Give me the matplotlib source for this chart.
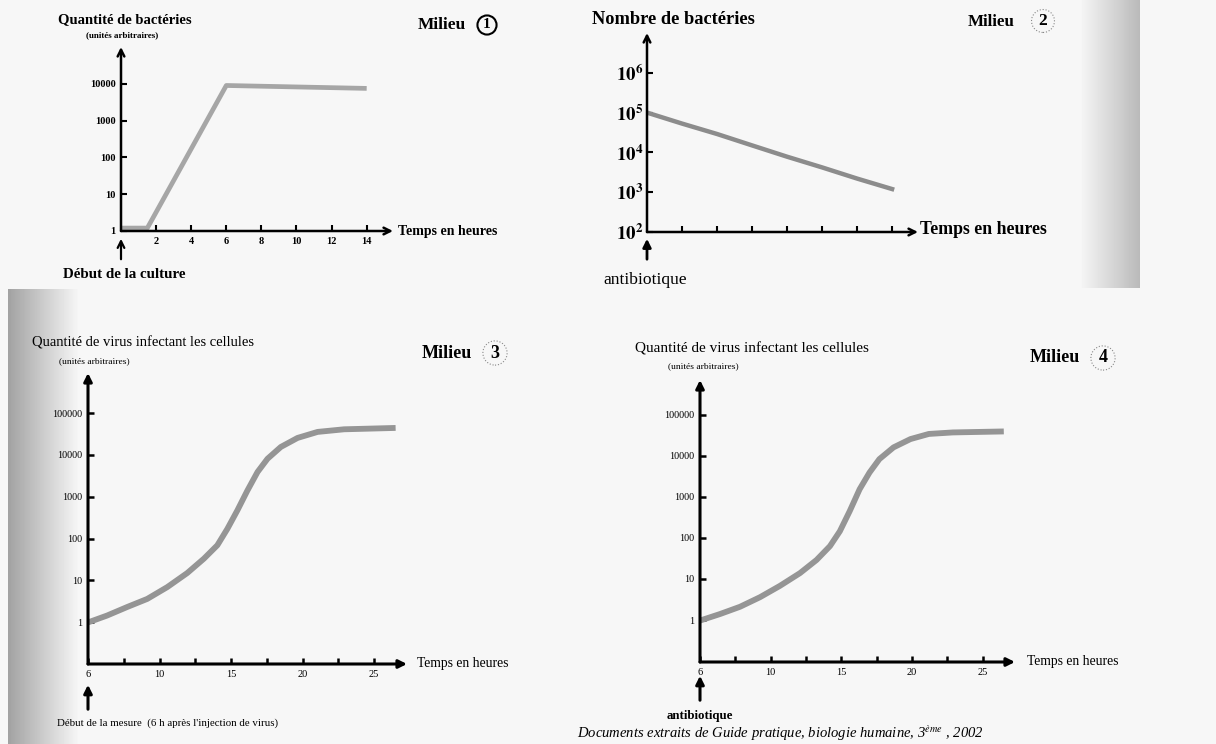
import numpy as np
import matplotlib
matplotlib.use("Agg")
import matplotlib.pyplot as plt
from matplotlib.ticker import NullLocator

plt.rcParams['font.family'] = ['Liberation Serif', 'DejaVu Serif']
plt.rcParams['mathtext.fontset'] = 'stix'

# Milieu 1 : bactéries
m1_heures = [0, 1.5, 6, 14]
m1_quantite = [1.2, 1.2, 9000, 7500]
m1_xticks = [2, 4, 6, 8, 10, 12, 14]
m1_yticks = [1, 10, 100, 1000, 10000]

# Milieu 2 : bactéries + antibiotique
m2_heures = [0, 1, 2, 3, 4, 5, 6, 7]
m2_nombre = [1e5, 5.3e4, 2.9e4, 1.5e4, 7.8e3, 4.2e3, 2.2e3, 1.2e3]
m2_xticks = [1, 2, 3, 4, 5, 6, 7]
m2_yticks = [1e2, 1e3, 1e4, 1e5, 1e6]
m2_ylabels = [r'$\mathbf{10^{2}}$', r'$\mathbf{10^{3}}$', r'$\mathbf{10^{4}}$',
              r'$\mathbf{10^{5}}$', r'$\mathbf{10^{6}}$']

# Milieu 3 : virus
m3_heures = [5.05, 6.33, 7.73, 9.14, 10.54, 11.94, 13.1, 14.04, 14.74, 15.44,
             16.14, 16.85, 17.55, 18.48, 19.65, 21.05, 22.9, 26.3]
m3_virus = [1.0, 1.44, 2.3, 3.6, 6.9, 15, 33, 69, 170, 470,
            1400, 3900, 8100, 15500, 25500, 35500, 41000, 44000]

# Milieu 4 : virus + antibiotique
m4_heures = [5.12, 6.42, 7.83, 9.25, 10.66, 12.08, 13.25, 14.2, 14.9, 15.6,
             16.3, 17.0, 17.7, 18.7, 19.9, 21.2, 22.9, 26.3]
m4_virus = [1.0, 1.4, 2.1, 3.6, 6.8, 13.9, 29, 63, 145, 450,
            1530, 3900, 8300, 16000, 25500, 34000, 37000, 39000]

virus_xticks = [5, 7.5, 10, 12.5, 15, 17.5, 20, 22.5, 25]
virus_xlabels = ['6', '', '10', '', '15', '', '20', '', '25']
virus_yticks = [1, 10, 100, 1000, 10000, 100000]
virus_ylabels = ['1', '10', '100', '1000', '10000', '100000']

W, H = 1216, 744
fig = plt.figure(figsize=(W / 100, H / 100), dpi=100)


def box(l, t, r, b):
    return [l / W, 1 - b / H, (r - l) / W, (b - t) / H]


def txt(x, y, s, **kw):
    kw.setdefault('va', 'center')
    fig.text(x / W, 1 - y / H, s, **kw)


def fleche(x, y0, y1, lw=1.6, style='->'):
    fig.add_artist(matplotlib.patches.FancyArrowPatch(
        (x / W, 1 - y0 / H), (x / W, 1 - y1 / H), transform=fig.transFigure,
        arrowstyle=style, mutation_scale=12, lw=lw, color='black'))


# fond de page scanné
bg = np.full((H, W), 0.965)
xs = np.arange(W)
ombre = np.clip((xs - 1080) / 60, 0, 1)
bg[:288, :1140] -= 0.24 * ombre[:1140]
gauche = np.clip(1 - (xs - 8) / 70, 0, 1)
bg[289:, 8:] -= 0.33 * gauche[8:]
bax = fig.add_axes([0, 0, 1, 1], zorder=-10)
bax.imshow(bg, cmap='gray', vmin=0, vmax=1, aspect='auto')
bax.axis('off')


def axes_fleches(ax, lw, style):
    for s in ax.spines.values():
        s.set_visible(False)
    ax.set_facecolor('none')
    ax.annotate('', xy=(1, 0), xytext=(0, 0), xycoords='axes fraction',
                arrowprops=dict(arrowstyle=style, lw=lw, color='black',
                                shrinkA=0, shrinkB=0, mutation_scale=12))
    ax.annotate('', xy=(0, 1), xytext=(0, 0), xycoords='axes fraction',
                arrowprops=dict(arrowstyle=style, lw=lw, color='black',
                                shrinkA=0, shrinkB=0, mutation_scale=12))
    ax.set_yscale('log')
    ax.yaxis.set_minor_locator(NullLocator())
    ax.xaxis.set_minor_locator(NullLocator())


# ---- Milieu 1
ax1 = fig.add_axes(box(121, 47, 393, 231))
axes_fleches(ax1, 1.8, '->')
ax1.plot(m1_heures, m1_quantite, color='#a6a6a6', lw=3.4, solid_capstyle='butt')
ax1.set_xlim(0, 15.5)
ax1.set_ylim(1, 1e5)
ax1.set_xticks(m1_xticks)
ax1.set_xticklabels([str(v) for v in m1_xticks], fontweight='bold', fontsize=7.5)
ax1.set_yticks(m1_yticks)
ax1.set_yticklabels([str(v) for v in m1_yticks], fontweight='bold', fontsize=7.5)
ax1.tick_params(direction='in', length=4, width=1.5, pad=4)
txt(125, 20, 'Quantité de bactéries', ha='center', fontweight='bold', fontsize=10.5)
txt(122, 35, '(unités arbitraires)', ha='center', fontweight='bold', fontsize=6.5)
txt(418, 25, 'Milieu', ha='left', fontweight='bold', fontsize=12.5)
txt(487, 25, '1', ha='center', fontweight='bold', fontsize=11,
    bbox=dict(boxstyle='circle,pad=0.2', fc='none', ec='black', lw=1.5))
txt(398, 232, 'Temps en heures', ha='left', fontweight='bold', fontsize=10)
txt(124, 274, 'Début de la culture', ha='center', fontweight='bold', fontsize=10.8)
fleche(121, 262, 236)

# ---- Milieu 2
ax2 = fig.add_axes(box(647, 33, 918, 232))
axes_fleches(ax2, 1.8, '->')
ax2.plot(m2_heures, m2_nombre, color='#8c8c8c', lw=3.2)
ax2.set_xlim(0, 7.74)
ax2.set_ylim(1e2, 1e7)
ax2.set_xticks(m2_xticks)
ax2.set_xticklabels([])
ax2.set_yticks(m2_yticks)
ax2.set_yticklabels(m2_ylabels, fontsize=13.5)
ax2.tick_params(direction='in', length=4, width=1.5, pad=3)
txt(592, 20, 'Nombre de bactéries', ha='left', fontweight='bold', fontsize=13.2)
txt(968, 22, 'Milieu', ha='left', fontweight='bold', fontsize=12.2)
txt(1043, 21, '2', ha='center', fontweight='bold', fontsize=12.5,
    bbox=dict(boxstyle='circle,pad=0.2', fc='none', ec='#888888', lw=0.8, ls=':'))
txt(920, 230, 'Temps en heures', ha='left', fontweight='bold', fontsize=12.8)
txt(645, 280, 'antibiotique', ha='center', fontsize=12.6)
fleche(647, 262, 236, lw=2, style='-|>')

# ---- Milieu 3
ax3 = fig.add_axes(box(88, 373, 407, 664))
axes_fleches(ax3, 2.2, '-|>')
ax3.plot(m3_heures, m3_virus, color='#959595', lw=4.2)
ax3.set_xlim(5, 27.3)
ax3.set_ylim(0.1, 9.1e5)
ax3.set_xticks(virus_xticks)
ax3.set_xticklabels(virus_xlabels, fontsize=7.5)
ax3.set_yticks(virus_yticks)
ax3.set_yticklabels(virus_ylabels, fontsize=7.3)
ax3.tick_params(direction='in', length=4, width=1.8, pad=4)
txt(32, 343, 'Quantité de virus infectant les cellules', ha='left', fontsize=10.5)
txt(94, 361, '(unités arbitraires)', ha='center', fontsize=6.8)
txt(422, 353, 'Milieu', ha='left', fontweight='bold', fontsize=13)
txt(495, 353, '3', ha='center', fontweight='bold', fontsize=13,
    bbox=dict(boxstyle='circle,pad=0.2', fc='none', ec='#888888', lw=0.8, ls=':'))
txt(417, 664, 'Temps en heures', ha='left', fontsize=9.8)
txt(57, 723, "Début de la mesure  (6 h après l'injection de virus)", ha='left', fontsize=7.8)
fleche(88, 712, 682, lw=2.2, style='-|>')

# ---- Milieu 4
ax4 = fig.add_axes(box(700, 380, 1015, 662))
axes_fleches(ax4, 2.2, '-|>')
ax4.plot(m4_heures, m4_virus, color='#959595', lw=4.2)
ax4.set_xlim(5, 27.3)
ax4.set_ylim(0.095, 7e5)
ax4.set_xticks(virus_xticks)
ax4.set_xticklabels(virus_xlabels, fontsize=7.5)
ax4.set_yticks(virus_yticks)
ax4.set_yticklabels(virus_ylabels, fontsize=7.3)
ax4.tick_params(direction='in', length=4, width=1.8, pad=4)
txt(635, 349, 'Quantité de virus infectant les cellules', ha='left', fontsize=11)
txt(703, 366, '(unités arbitraires)', ha='center', fontsize=6.8)
txt(1030, 358, 'Milieu', ha='left', fontweight='bold', fontsize=13)
txt(1103, 358, '4', ha='center', fontweight='bold', fontsize=13,
    bbox=dict(boxstyle='circle,pad=0.2', fc='none', ec='#888888', lw=0.8, ls=':'))
txt(1027, 662, 'Temps en heures', ha='left', fontsize=9.8)
txt(700, 716, 'antibiotique', ha='center', fontweight='bold', fontsize=9.3)
fleche(700, 703, 673, lw=2.2, style='-|>')

txt(577, 743, 'Documents extraits de Guide pratique, biologie humaine, 3$^{ème}$ , 2002',
    ha='left', va='bottom', fontstyle='italic', fontsize=10.5)

fig.savefig('out.png', dpi=100)
